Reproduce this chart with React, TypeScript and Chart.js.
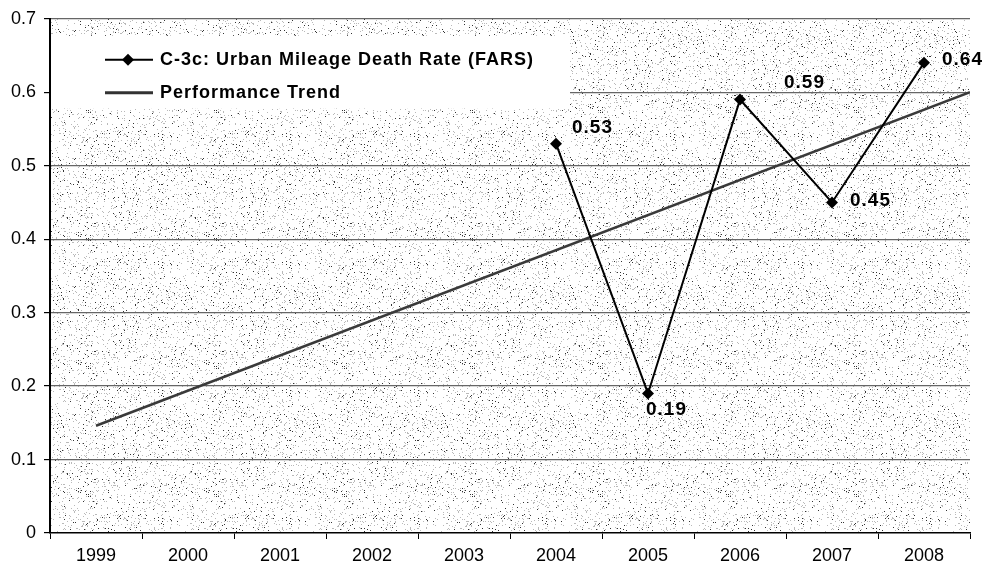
import React, { useEffect, useRef } from "react";
import { Chart, registerables } from "chart.js";

Chart.register(...registerables);

const years = ["1999", "2000", "2001", "2002", "2003", "2004", "2005", "2006", "2007", "2008"];
const deathRate = [null, null, null, null, null, 0.53, 0.19, 0.59, 0.45, 0.64];
const trendStart = { x: 0, y: 0.146 };
const trendEnd = { x: 9.5, y: 0.6 };
const yTicks = [0, 0.1, 0.2, 0.3, 0.4, 0.5, 0.6, 0.7];
const seriesName = "C-3c: Urban Mileage Death Rate (FARS)";
const trendName = "Performance Trend";

// label offsets (dx, dy) relative to each point, in pixels
const labelOffsets: Record<number, [number, number]> = {
  5: [16, -16],
  6: [-2, 16],
  7: [44, -17],
  8: [18, -2],
  9: [18, -3],
};

function makeStipple(ctx: CanvasRenderingContext2D) {
  const size = 128;
  const c = document.createElement("canvas");
  c.width = size;
  c.height = size;
  const g = c.getContext("2d")!;
  const img = g.createImageData(size, size);
  let s = 12345;
  const next = () => {
    s = (s * 1103515245 + 12345) & 0x7fffffff;
    return s / 0x7fffffff;
  };
  for (let i = 0; i < size * size; i++) {
    const h = next();
    let v = 255;
    if (h < 0.06) v = 185;
    else if (h < 0.08) v = 50;
    img.data[i * 4] = v;
    img.data[i * 4 + 1] = v;
    img.data[i * 4 + 2] = v;
    img.data[i * 4 + 3] = 255;
  }
  g.putImageData(img, 0, 0);
  return ctx.createPattern(c, "repeat")!;
}

const FONT = "'Liberation Sans', Arial, sans-serif";

export default function App() {
  const ref = useRef<HTMLCanvasElement>(null);

  useEffect(() => {
    document.body.style.margin = "0";
    const canvas = ref.current!;
    const ctx = canvas.getContext("2d")!;
    const pattern = makeStipple(ctx);

    const bgPlugin = {
      id: "bg",
      beforeDraw(chart: any) {
        const { ctx, chartArea } = chart;
        ctx.save();
        ctx.fillStyle = "#ffffff";
        ctx.fillRect(0, 0, chart.width, chart.height);
        ctx.fillStyle = pattern;
        ctx.fillRect(chartArea.left, chartArea.top, chartArea.right - chartArea.left, chartArea.bottom - chartArea.top);
        ctx.restore();
      },
    };

    const legendPlugin = {
      id: "customLegend",
      beforeDatasetsDraw(chart: any) {
        const { ctx, chartArea } = chart;
        const x0 = chartArea.left + 1;
        const y0 = chartArea.top + 17;
        ctx.save();
        ctx.fillStyle = "#ffffff";
        ctx.fillRect(x0, y0, 570 - x0, 73);
        const ly1 = y0 + 24;
        const ly2 = y0 + 57;
        ctx.strokeStyle = "#000";
        ctx.lineWidth = 2;
        ctx.beginPath();
        ctx.moveTo(105, ly1);
        ctx.lineTo(153, ly1);
        ctx.stroke();
        ctx.fillStyle = "#000";
        ctx.beginPath();
        ctx.moveTo(128, ly1 - 6);
        ctx.lineTo(134, ly1);
        ctx.lineTo(128, ly1 + 6);
        ctx.lineTo(122, ly1);
        ctx.closePath();
        ctx.fill();
        ctx.strokeStyle = "#333";
        ctx.lineWidth = 3;
        ctx.beginPath();
        ctx.moveTo(105, ly2);
        ctx.lineTo(153, ly2);
        ctx.stroke();
        ctx.fillStyle = "#000";
        ctx.font = `bold 18px ${FONT}`;
        (ctx as any).letterSpacing = "1px";
        ctx.textBaseline = "middle";
        ctx.textAlign = "left";
        ctx.fillText(seriesName, 160, ly1);
        ctx.fillText(trendName, 160, ly2);
        ctx.restore();
      },
    };

    const labelPlugin = {
      id: "pointLabels",
      afterDatasetsDraw(chart: any) {
        const { ctx } = chart;
        const meta = chart.getDatasetMeta(0);
        ctx.save();
        ctx.fillStyle = "#000";
        ctx.font = `bold 19px ${FONT}`;
        (ctx as any).letterSpacing = "1px";
        ctx.textBaseline = "middle";
        ctx.textAlign = "left";
        meta.data.forEach((pt: any, i: number) => {
          const v = deathRate[i];
          if (v == null) return;
          const off = labelOffsets[i] || [14, 0];
          ctx.fillText(v.toFixed(2), pt.x + off[0], pt.y + off[1]);
        });
        ctx.restore();
      },
    };

    const chart = new Chart(canvas, {
      type: "line",
      data: {
        labels: years,
        datasets: [
          {
            label: seriesName,
            data: deathRate as any,
            borderColor: "#000",
            backgroundColor: "#000",
            borderWidth: 2,
            pointStyle: "rectRot",
            pointRadius: 6,
            pointBorderWidth: 0,
            spanGaps: false,
            xAxisID: "x",
          },
          {
            label: trendName,
            data: [trendStart, trendEnd] as any,
            borderColor: "#3a3a3a",
            borderWidth: 2.5,
            pointRadius: 0,
            xAxisID: "x2",
          },
        ],
      },
      options: {
        animation: false,
        responsive: false,
        layout: { padding: { left: 0, right: 16, top: 16, bottom: 0 } },
        plugins: { legend: { display: false }, tooltip: { enabled: false } },
        scales: {
          x: {
            type: "category",
            offset: true,
            grid: {
              display: true,
              drawOnChartArea: false,
              drawTicks: true,
              tickLength: 6,
              offset: true,
              color: "#000",
              tickColor: "#000",
            },
            border: { color: "#000", width: 1.5 },
            ticks: {
              color: "#000",
              font: { family: FONT, size: 18 },
              padding: 6,
              maxRotation: 0,
            },
            afterFit(scale: any) {
              scale.height = 40;
            },
          },
          x2: {
            type: "linear",
            display: false,
            min: -0.5,
            max: 9.5,
          },
          y: {
            min: 0,
            max: 0.7,
            afterBuildTicks(scale: any) {
              scale.ticks = yTicks.map((v) => ({ value: v }));
            },
            grid: {
              color: (c: any) => (c.tick && c.tick.value === 0 ? "rgba(0,0,0,0)" : "#666"),
              lineWidth: 1.2,
              tickLength: 6,
              tickColor: "#000",
            },
            border: { color: "#000", width: 2 },
            ticks: {
              color: "#000",
              font: { family: FONT, size: 18 },
              padding: 8,
              callback: (v: any) => (Number(v) === 0 ? "0" : Number(v).toFixed(1)),
            },
            afterFit(scale: any) {
              scale.width = 50;
            },
          },
        },
      },
      plugins: [bgPlugin, legendPlugin, labelPlugin],
    });
    return () => chart.destroy();
  }, []);

  return (
    <div style={{ position: "absolute", left: 0, top: 0, width: 986, height: 573 }}>
      <canvas ref={ref} width={986} height={573} style={{ width: 986, height: 573 }} />
    </div>
  );
}
